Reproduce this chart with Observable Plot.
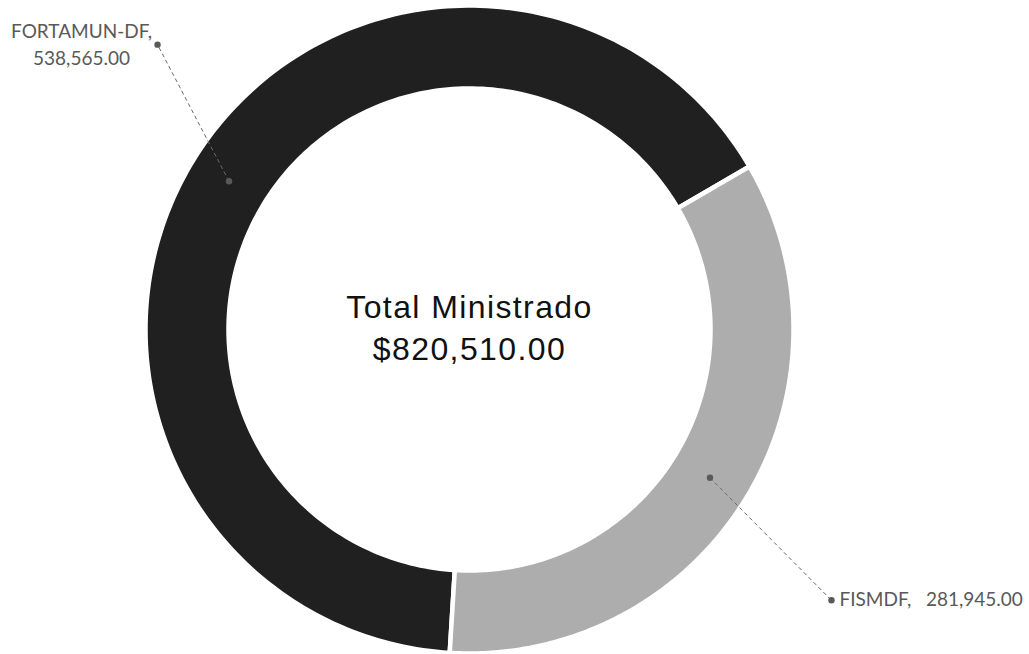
<!DOCTYPE html>
<html><head><meta charset="utf-8">
<script src="https://cdn.jsdelivr.net/npm/d3@7"></script>
<script src="https://cdn.jsdelivr.net/npm/@observablehq/plot@0.6"></script>
<style>body{margin:0;background:#fff}</style>
</head><body><div id="chart"></div>
<script>
// ---- data ----
const categories = ["FORTAMUN-DF", "FISMDF"];
const values = [538565.00, 281945.00];
const centerTitle = "Total Ministrado";
const totalValue = 820510.00;

// ---- layout / style (not data) ----
const colors = ["#202020", "#adadad"];
const W = 1029, H = 654;
const cx = 469, cy = 329, R = 322;      // pixel centre and outer radius
const rOut = 324 / R, rIn = 241 / R;    // polygon radii (white stroke trims 2px)
const rMid = 282.5 / R;
const startDeg = 183.5;                 // first slice start, clockwise from north
const leaderEnd = [ {r: 1.312, deg: 312.4}, {r: 1.404, deg: 126.8} ];

const fmt = d3.format(",.2f");
const rad = d => d * Math.PI / 180;

const pie = d3.pie().sort(null).value(d => d.value)
  .startAngle(rad(startDeg)).endAngle(rad(startDeg) + 2 * Math.PI);
const rows = categories.map((c, i) => ({cat: c, value: values[i]}));
const arcs = pie(rows);

// ring polygons built from the pie angles
const ring = [];
for (const a of arcs) {
  const n = 200;
  const pts = [];
  for (let k = 0; k <= n; k++) {
    const t = a.startAngle + (a.endAngle - a.startAngle) * k / n;
    pts.push({cat: a.data.cat, x: rOut * Math.sin(t), y: rOut * Math.cos(t)});
  }
  for (let k = n; k >= 0; k--) {
    const t = a.startAngle + (a.endAngle - a.startAngle) * k / n;
    pts.push({cat: a.data.cat, x: rIn * Math.sin(t), y: rIn * Math.cos(t)});
  }
  pts.push(pts[0]);
  ring.push(...pts);
}

const leaders = arcs.map((a, i) => {
  const m = (a.startAngle + a.endAngle) / 2;
  const e = rad(leaderEnd[i].deg);
  return {
    cat: a.data.cat, value: a.data.value,
    x1: rMid * Math.sin(m), y1: rMid * Math.cos(m),
    x2: leaderEnd[i].r * Math.sin(e), y2: leaderEnd[i].r * Math.cos(e)
  };
});

const labelFont = "Lato, 'Open Sans', sans-serif";
const gray = "#595959";

const chart = Plot.plot({
  width: W, height: H,
  marginLeft: cx - R, marginRight: W - (cx + R),
  marginTop: cy - R, marginBottom: H - (cy + R),
  x: {domain: [-1, 1], axis: null},
  y: {domain: [-1, 1], axis: null},
  color: {domain: categories, range: colors},
  style: {background: "#fff", overflow: "visible"},
  marks: [
    Plot.line(ring, {x: "x", y: "y", z: "cat", fill: "cat", stroke: "#fff", strokeWidth: 4.5, curve: "linear"}),
    Plot.link(leaders, {x1: "x1", y1: "y1", x2: "x2", y2: "y2", stroke: "#6a6a6a", strokeWidth: 1, strokeDasharray: "4,3"}),
    Plot.dot(leaders, {x: "x1", y: "y1", r: 3.2, fill: gray, stroke: null}),
    Plot.dot(leaders, {x: "x2", y: "y2", r: 3.2, fill: gray, stroke: null}),
    Plot.text([leaders[0]], {x: "x2", y: "y2", text: d => d.cat + ",\n" + fmt(d.value),
      dx: -76, dy: -2, textAnchor: "middle", lineAnchor: "middle", lineHeight: 1.45,
      fontSize: 19, fontFamily: labelFont, fill: gray}),
    Plot.text([leaders[1]], {x: "x2", y: "y2", text: d => d.cat + ",\u00a0\u00a0 " + fmt(d.value),
      dx: 8, dy: 0, textAnchor: "start", lineAnchor: "middle",
      fontSize: 19, fontFamily: labelFont, fill: gray}),
    Plot.text([{t: centerTitle + "\n$" + fmt(totalValue)}], {x: () => 0, y: () => 0, text: "t",
      textAnchor: "middle", lineAnchor: "middle", lineHeight: 1.3, dy: -4,
      fontSize: 32, fontFamily: "'Liberation Sans', Arial, sans-serif", fill: "#111"})
  ]
});
const texts = chart.querySelectorAll('g[aria-label="text"]');
texts[texts.length - 1].style.letterSpacing = "1.4px";
document.getElementById("chart").appendChild(chart);
</script>
</body></html>
